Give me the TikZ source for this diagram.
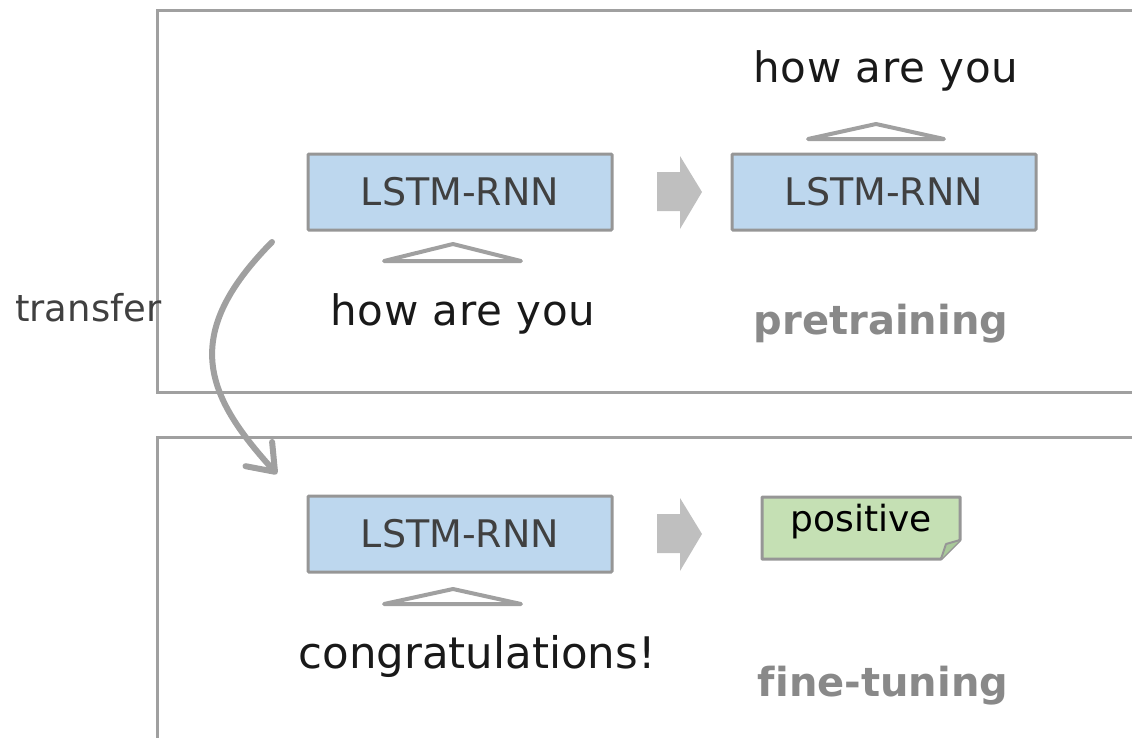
\documentclass[tikz,border=0pt]{standalone}
\usepackage{fontspec}
\setmainfont{DejaVu Sans}
\usetikzlibrary{arrows.meta}
\definecolor{framegray}{HTML}{A0A0A0}
\definecolor{boxblue}{HTML}{BDD7EE}
\definecolor{boxedge}{HTML}{969696}
\definecolor{blockgray}{HTML}{BFBFBF}
\definecolor{notegreen}{HTML}{C5E0B4}
\definecolor{foldgreen}{HTML}{A9C99A}
\definecolor{darktext}{HTML}{404040}
\definecolor{labelgray}{HTML}{898989}
\tikzset{
  frameline/.style={draw=framegray, line width=3pt},
  lstm/.style={draw=boxedge, fill=boxblue, line width=3pt, rounded corners=1pt,
    minimum width=304pt, minimum height=76pt, inner sep=0pt,
    text=darktext, font=\fontsize{38}{45}\selectfont},
  tokens/.style={text=black!90, inner sep=0pt,
    font=\fontsize{42}{50}\selectfont\addfontfeature{LetterSpace=2}},
  phase/.style={text=labelgray, inner sep=0pt, font=\bfseries\fontsize{40}{48}\selectfont},
  wedge/.style={draw=framegray, fill=white, line width=4pt, line join=round, line cap=round},
  blockarrow/.style={fill=blockgray, draw=none},
  note/.style={draw=boxedge, fill=notegreen, line width=3pt, line join=round},
  transferarrow/.style={draw=framegray, line width=6pt, line cap=round,
    -{Straight Barb[length=24pt, width=36pt, round]}}
}
\begin{document}
\begin{tikzpicture}[x=1pt, y=-1pt]
\useasboundingbox (0,0) rectangle (1132,737);

% stage frames, open to the right
\draw[frameline] (1134,10) -- (157,10) -- (157,392) -- (1134,392);
\draw[frameline] (1134,437) -- (157,437) -- (157,740);

% pretraining stage
\node[lstm] (enc) at (460,192) {LSTM-RNN};
\node[lstm] (dec) at (884,192) {LSTM-RNN};
\draw[wedge] (384,261) -- (453,244) -- (521,261) -- cycle;
\draw[wedge] (808,139) -- (876,124) -- (944,139) -- cycle;
\node[tokens] (inA) at (463,314) {how are you};
\node[tokens] (outA) at (886,71) {how are you};
\node[phase] (pre) at (881,324) {pretraining};
\fill[blockarrow] (657,172) -- (680,172) -- (680,156) -- (702,192)
  -- (680,229) -- (680,211) -- (657,211) -- cycle;

% fine-tuning stage
\node[lstm] (clf) at (460,534) {LSTM-RNN};
\draw[wedge] (384,604) -- (453,589) -- (521,604) -- cycle;
\node[tokens, font=\fontsize{43.5}{52}\selectfont] (inB) at (477,656) {congratulations!};
\node[phase] (fine) at (883,686) {f\kern0pt ine-tuning};
\fill[blockarrow] (657,514) -- (680,514) -- (680,498) -- (702,534)
  -- (680,571) -- (680,553) -- (657,553) -- cycle;

% output label on a note with a folded corner
\draw[note] (762,497) -- (960,497) -- (960,540) -- (941,559) -- (762,559) -- cycle;
\draw[note, fill=foldgreen, line width=2pt] (941,559) -- (946,544) -- (960,540);
\node[inner sep=0pt, text=black, font=\fontsize{36}{43}\selectfont] (lab) at (861,522) {positive};

% transfer of the pretrained weights
\coordinate (tstart) at (272,242);
\coordinate (tend) at (277,474);
\draw[transferarrow] (tstart) .. controls (180,335) and (205,395) .. (tend);
\node[anchor=west, inner sep=0pt, text=darktext, font=\fontsize{37}{44}\selectfont] (tr) at (15,308) {transfer};
\end{tikzpicture}
\end{document}
